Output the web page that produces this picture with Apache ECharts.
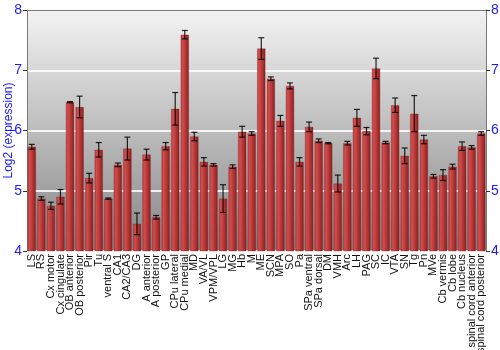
<!DOCTYPE html>
<html>
<head>
<meta charset="utf-8">
<script src="https://cdn.jsdelivr.net/npm/echarts@6/dist/echarts.min.js"></script>
<style>
  html, body { margin: 0; padding: 0; background: #fff; }
  #main { width: 500px; height: 350px; }
</style>
</head>
<body>
<div id="main"></div>
<script>
// brain regions
var regions = ['LS', 'RS', 'Cx motor', 'Cx cingulate', 'OB anterior', 'OB posterior', 'Pir', 'Tu',
	'ventral S', 'CA1', 'CA2/CA3', 'DG', 'A anterior', 'A posterior', 'GP', 'CPu lateral', 'CPu medial',
	'MD', 'VA/VL', 'VPM/VPL', 'LG', 'MG', 'Hb', 'M', 'ME', 'SCN', 'MPA', 'SO', 'Pa', 'SPa ventral',
	'SPa dorsal', 'DM', 'VMH', 'Arc', 'LH', 'PAG', 'SC', 'IC', 'VTA', 'SN', 'Tg', 'Pn', 'MVe',
	'Cb vermis', 'Cb lobe', 'Cb nucleus', 'spinal cord anterior', 'spinal cord posterior'];

// mean log2 expression
var means = [5.73, 4.87, 4.75, 4.90, 6.47, 6.39, 5.21, 5.68,
	4.87, 5.43, 5.70, 4.45, 5.60, 4.56, 5.74, 6.36, 7.59,
	5.90, 5.48, 5.43, 4.87, 5.40, 5.98, 5.95, 7.36, 6.86, 6.16, 6.74, 5.48, 6.06,
	5.83, 5.79, 5.12, 5.79, 6.21, 5.99, 7.03, 5.80, 6.42, 5.58, 6.28, 5.85, 5.24,
	5.26, 5.40, 5.74, 5.72, 5.95];

// error (+/-)
var errs = [0.04, 0.03, 0.06, 0.12, 0.01, 0.18, 0.08, 0.12,
	0.01, 0.03, 0.19, 0.18, 0.09, 0.03, 0.06, 0.27, 0.07,
	0.07, 0.07, 0.02, 0.23, 0.03, 0.09, 0.03, 0.18, 0.03, 0.09, 0.05, 0.07, 0.08,
	0.03, 0.01, 0.14, 0.03, 0.14, 0.06, 0.17, 0.02, 0.12, 0.13, 0.30, 0.07, 0.03,
	0.09, 0.04, 0.07, 0.03, 0.03];

var yTicks = [4, 5, 6, 7, 8];

var errData = means.map(function (m, i) {
	return [i, m - errs[i], m + errs[i]];
});

var myChart = echarts.init(document.getElementById('main'));

var yAxisBase = function (pos) {
	return {
		type: 'value',
		position: pos,
		min: yTicks[0],
		max: yTicks[yTicks.length - 1],
		interval: 1,
		axisLine: { show: true, lineStyle: { color: '#777', width: 1 } },
		axisTick: { show: true, length: 4, lineStyle: { color: '#333' } },
		axisLabel: { color: '#1a1aff', fontSize: 14, fontFamily: 'Liberation Sans', margin: 5 },
		splitLine: { show: false }
	};
};

var leftAxis = yAxisBase('left');
leftAxis.name = 'Log2 (expression)';
leftAxis.nameLocation = 'middle';
leftAxis.nameGap = 12;
leftAxis.nameMoveOverlap = false;
leftAxis.nameTextStyle = { color: '#1a1aff', fontSize: 12, fontFamily: 'Liberation Sans' };
leftAxis.splitLine = { show: true, lineStyle: { color: 'rgba(255,255,255,0.85)', width: 2 } };

var option = {
	animation: false,
	grid: {
		left: 27,
		right: 14,
		top: 10,
		bottom: 99,
		outerBoundsMode: 'none',
		containLabel: false,
		show: true,
		borderWidth: 0,
		backgroundColor: new echarts.graphic.LinearGradient(0, 0, 0, 1, [
			{ offset: 0, color: '#f3f3f3' },
			{ offset: 1, color: '#858585' }
		])
	},
	xAxis: [
		{
			type: 'category',
			data: regions,
			axisLine: { show: false },
			axisTick: { show: false },
			axisLabel: {
				interval: 0,
				rotate: 90,
				fontSize: 11,
				fontFamily: 'Liberation Sans',
				color: '#111',
				margin: 3
			}
		},
		{
			type: 'category',
			position: 'top',
			data: regions,
			axisLine: { show: true, lineStyle: { color: '#777' } },
			axisTick: { show: false },
			axisLabel: { show: false }
		}
	],
	yAxis: [leftAxis, yAxisBase('right')],
	series: [
		{
			type: 'bar',
			data: means,
			barCategoryGap: '14%',
			itemStyle: {
				color: new echarts.graphic.LinearGradient(0, 0, 1, 0, [
					{ offset: 0, color: '#c23c3c' },
					{ offset: 0.25, color: '#d24c4c' },
					{ offset: 1, color: '#8e1e1e' }
				]),
				borderColor: 'rgba(110,20,20,0.6)',
				borderWidth: 0.5
			}
		},
		{
			type: 'custom',
			data: errData,
			z: 10,
			renderItem: function (params, api) {
				var x = api.value(0);
				var lo = api.coord([x, api.value(1)]);
				var hi = api.coord([x, api.value(2)]);
				var cap = 3;
				var style = { stroke: 'rgba(0,0,0,0.85)', lineWidth: 1.2 };
				return {
					type: 'group',
					children: [
						{ type: 'line', shape: { x1: hi[0], y1: hi[1], x2: lo[0], y2: lo[1] }, style: style },
						{ type: 'line', shape: { x1: hi[0] - cap, y1: hi[1], x2: hi[0] + cap, y2: hi[1] }, style: style },
						{ type: 'line', shape: { x1: lo[0] - cap, y1: lo[1], x2: lo[0] + cap, y2: lo[1] }, style: style }
					]
				};
			}
		}
	]
};
myChart.setOption(option);
</script>
</body>
</html>
